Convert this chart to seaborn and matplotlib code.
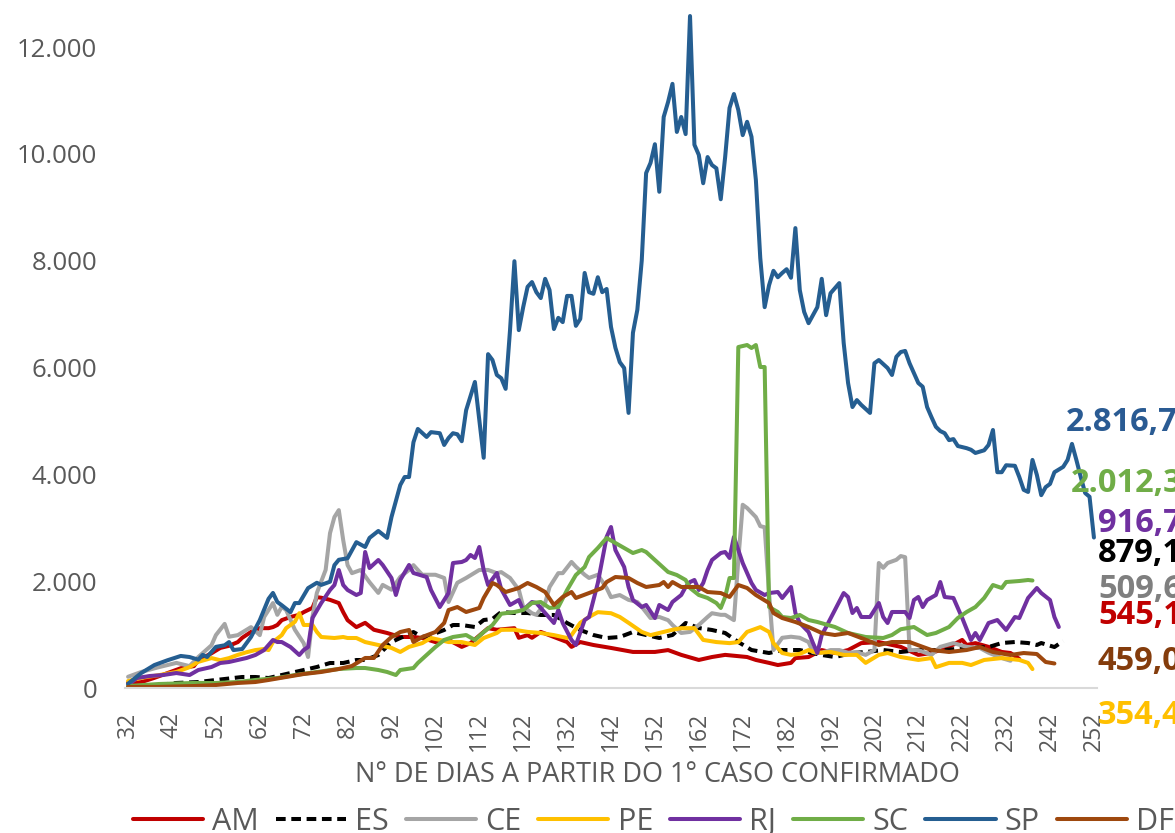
import matplotlib
matplotlib.use("Agg")
import matplotlib.pyplot as plt
from matplotlib.ticker import FuncFormatter
import seaborn as sns

# %% data
states = ["AM", "ES", "CE", "PE", "RJ", "SC", "SP", "DF"]

am_days = [32, 35, 38, 41, 44, 47, 48, 51, 53, 55, 57, 58, 60, 62, 64, 65, 66, 67, 69, 71, 72, 74, 75, 76, 78, 80,
           81, 82, 84, 86, 88, 91, 94, 97, 99, 102, 105, 108, 110, 114, 116, 120, 121, 123, 124, 126, 129, 132, 133,
           135, 138, 142, 147, 152, 155, 158, 162, 165, 168, 173, 175, 178, 180, 183, 184, 187, 190, 193, 196, 199,
           203, 208, 212, 215, 219, 222, 223, 225, 228, 231, 233, 235]
am_vals = [100, 110, 190, 280, 370, 410, 520, 650, 750, 790, 860, 940, 1050, 1120, 1120, 1140, 1180, 1270, 1330,
           1370, 1420, 1500, 1700, 1690, 1650, 1590, 1420, 1270, 1140, 1220, 1090, 1030, 955, 955, 936, 860, 900, 770,
           840, 1120, 1090, 1120, 940, 990, 940, 1050, 955, 860, 770, 860, 805, 750, 675, 675, 710, 620, 525, 580,
           620, 580, 525, 470, 430, 470, 560, 580, 710, 655, 710, 840, 860, 770, 620, 655, 770, 900, 805, 840, 770,
           675, 655, 545]

es_days = [32, 39, 43, 48, 52, 58, 61, 64, 67, 71, 75, 78, 81, 84, 86, 89, 92, 94, 97, 99, 101, 104, 106, 108, 111,
           113, 115, 117, 120, 123, 126, 129, 132, 135, 138, 141, 144, 147, 150, 153, 156, 159, 162, 165, 168, 171,
           174, 178, 181, 185, 190, 193, 197, 200, 204, 208, 212, 218, 223, 228, 231, 234, 237, 239, 240, 243, 245]
es_vals = [20, 56, 94, 112, 150, 206, 206, 187, 243, 318, 393, 468, 468, 524, 524, 618, 861, 936, 1048, 955, 992,
           1086, 1179, 1179, 1142, 1273, 1292, 1423, 1404, 1404, 1367, 1367, 1217, 1086, 992, 936, 955, 1048, 992,
           936, 992, 1217, 1123, 1086, 1030, 861, 711, 655, 711, 711, 618, 580, 655, 674, 711, 674, 711, 711, 749,
           767, 842, 861, 842, 805, 842, 767, 879]

ce_days = [32, 35, 39, 43, 46, 48, 51, 52, 54, 55, 57, 59, 60, 62, 63, 65, 66, 67, 68, 70, 72, 73, 74, 75, 77, 78,
           79, 80, 81, 82, 83, 85, 87, 89, 90, 92, 94, 96, 97, 99, 102, 104, 105, 107, 109, 112, 114, 116, 117, 119,
           121, 122, 124, 125, 127, 128, 130, 131, 133, 134, 136, 137, 139, 141, 142, 144, 146, 148, 149, 151, 153,
           155, 156, 158, 160, 162, 164, 165, 167, 168, 170, 171, 172, 173, 175, 176, 177, 178, 179, 181, 183, 185,
           187, 188, 190, 192, 194, 196, 198, 200, 202, 203, 204, 205, 207, 208, 209, 210, 212, 215, 217, 220, 223,
           226, 228, 231, 233]
ce_vals = [210, 300, 390, 470, 410, 580, 800, 990, 1200, 960, 990, 1090, 1140, 990, 1330, 1590, 1370, 1520, 1460,
           1090, 840, 580, 1330, 1780, 2210, 2900, 3200, 3330, 2770, 2300, 2150, 2210, 1980, 1780, 1930, 1840, 2080,
           2210, 2300, 2120, 2120, 2060, 1610, 1970, 2060, 2210, 2210, 2150, 2170, 2060, 1840, 1520, 1400, 1370,
           1590, 1890, 2150, 2150, 2360, 2270, 2120, 2060, 2120, 1870, 1700, 1740, 1650, 1610, 1520, 1310, 1330,
           1270, 1180, 1030, 1050, 1180, 1330, 1400, 1370, 1370, 1270, 2400, 3430, 3370, 3200, 3030, 3010, 1780,
           710, 940, 960, 940, 860, 670, 660, 710, 710, 660, 670, 620, 710, 2340, 2250, 2340, 2400, 2470, 2450,
           710, 710, 620, 770, 840, 770, 750, 660, 560, 510]

pe_days = [32, 35, 39, 43, 46, 48, 51, 53, 55, 57, 59, 61, 63, 64, 65, 67, 68, 70, 71, 72, 74, 75, 76, 79, 81, 82,
           84, 86, 89, 91, 92, 94, 96, 99, 101, 103, 105, 108, 111, 113, 116, 117, 120, 123, 126, 129, 132, 133,
           135, 137, 139, 142, 144, 146, 149, 151, 153, 156, 158, 161, 163, 166, 169, 171, 173, 176, 178, 179, 181,
           183, 185, 187, 189, 192, 195, 198, 200, 203, 205, 208, 212, 215, 216, 219, 222, 224, 227, 231, 235, 237,
           238]
pe_vals = [130, 190, 240, 300, 390, 490, 560, 520, 560, 620, 670, 710, 730, 710, 860, 990, 1120, 1240, 1400, 1180,
           1180, 1050, 955, 936, 955, 936, 936, 860, 805, 770, 750, 675, 770, 840, 936, 900, 860, 860, 805, 936,
           1030, 1090, 1090, 1050, 1030, 990, 936, 990, 1220, 1330, 1420, 1400, 1330, 1220, 1050, 990, 1030, 1090,
           1120, 1120, 900, 860, 840, 860, 1050, 1140, 1050, 840, 655, 620, 640, 710, 655, 675, 620, 620, 470, 620,
           655, 580, 525, 560, 390, 470, 470, 430, 525, 560, 525, 470, 354]

rj_days = [32, 34, 37, 40, 43, 46, 48, 51, 53, 55, 57, 59, 61, 63, 65, 66, 67, 69, 71, 72, 73, 74, 76, 78, 79, 80,
           81, 82, 84, 85, 86, 87, 89, 90, 92, 93, 94, 96, 97, 100, 101, 103, 105, 106, 108, 109, 110, 111, 112, 113,
           114, 116, 117, 119, 121, 122, 124, 125, 127, 129, 130, 131, 133, 134, 136, 137, 139, 140, 141, 142, 143,
           145, 146, 147, 149, 150, 152, 153, 155, 156, 158, 159, 160, 161, 162, 163, 164, 165, 167, 168, 169, 170,
           171, 172, 174, 175, 177, 178, 180, 181, 183, 184, 185, 187, 188, 189, 190, 191, 193, 195, 196, 197, 198,
           199, 201, 203, 204, 205, 206, 209, 210, 211, 212, 213, 214, 216, 217, 218, 220, 222, 224, 225, 226, 228,
           230, 232, 234, 235, 237, 239, 240, 242, 243, 244]
rj_vals = [56, 187, 225, 243, 280, 243, 337, 393, 468, 487, 524, 562, 618, 711, 899, 861, 861, 767, 618, 711, 767,
           1310, 1591, 1835, 1928, 2209, 1928, 1835, 1741, 1778, 2546, 2246, 2396, 2303, 2059, 1741, 2022, 2303,
           2153, 2078, 1835, 1516, 1778, 2340, 2359, 2396, 2490, 2434, 2640, 2209, 1928, 2153, 1850, 1554, 1647,
           1460, 1610, 1591, 1404, 1217, 1460, 1217, 899, 805, 1273, 1329, 1966, 2396, 2827, 3014, 2583, 2265, 1891,
           1647, 1516, 1554, 1310, 1554, 1460, 1610, 1741, 1891, 1984, 2022, 1835, 1966, 2209, 2396, 2527, 2546,
           2434, 2827, 2583, 2340, 1966, 1835, 1741, 1778, 1797, 1685, 1891, 1404, 1217, 1048, 842, 655, 992, 1142,
           1460, 1778, 1704, 1404, 1498, 1329, 1329, 1591, 1329, 1217, 1423, 1423, 1310, 1647, 1704, 1516, 1647,
           1741, 1984, 1704, 1685, 1310, 899, 1030, 899, 1217, 1273, 1086, 1329, 1310, 1685, 1872, 1778, 1647,
           1329, 1142]

sc_days = [32, 39, 47, 52, 57, 61, 66, 70, 75, 80, 84, 86, 89, 91, 93, 94, 97, 98, 100, 102, 104, 106, 109, 111,
           113, 115, 117, 120, 122, 124, 126, 128, 130, 132, 134, 136, 137, 139, 141, 143, 145, 147, 149, 150, 152,
           155, 157, 159, 160, 162, 164, 166, 167, 168, 169, 170, 171, 173, 174, 175, 176, 177, 178, 180, 181, 183,
           185, 187, 189, 193, 196, 200, 204, 206, 208, 211, 214, 216, 219, 221, 223, 225, 227, 229, 231, 232, 235,
           237, 238]
sc_vals = [37, 75, 94, 94, 112, 150, 187, 243, 300, 356, 374, 374, 337, 300, 243, 337, 374, 468, 618, 767, 899,
           955, 992, 899, 1048, 1179, 1390, 1423, 1460, 1591, 1610, 1498, 1516, 1835, 2115, 2265, 2452, 2621, 2808,
           2715, 2621, 2527, 2583, 2546, 2396, 2172, 2115, 2022, 1872, 1741, 1685, 1591, 1498, 1704, 2059, 2059,
           6383, 6421, 6365, 6421, 6009, 6009, 1516, 1423, 1329, 1310, 1367, 1273, 1236, 1142, 1030, 955, 936, 992,
           1100, 1142, 992, 1030, 1142, 1310, 1423, 1516, 1685, 1928, 1872, 1984, 2003, 2022, 2012]

sp_days = [32, 35, 38, 41, 44, 46, 48, 49, 50, 52, 54, 55, 56, 58, 60, 62, 64, 65, 66, 67, 69, 70, 71, 73, 75, 76,
           78, 79, 80, 82, 83, 84, 86, 87, 89, 91, 92, 94, 95, 96, 97, 98, 100, 101, 103, 104, 105, 106, 107, 108,
           109, 111, 113, 114, 115, 116, 117, 118, 119, 120, 121, 122, 123, 124, 125, 126, 127, 128, 129, 130, 131,
           132, 133, 134, 135, 136, 137, 138, 139, 140, 141, 142, 143, 144, 145, 146, 147, 148, 149, 150, 151, 152,
           153, 154, 155, 156, 157, 158, 159, 160, 161, 162, 163, 164, 165, 166, 167, 168, 169, 170, 171, 172, 173,
           174, 175, 176, 177, 178, 179, 180, 181, 182, 183, 184, 185, 186, 187, 189, 190, 191, 192, 194, 195, 196,
           197, 198, 199, 201, 202, 203, 205, 206, 207, 208, 209, 210, 212, 213, 214, 215, 216, 217, 218, 219, 220,
           221, 223, 224, 225, 227, 228, 229, 230, 231, 232, 234, 235, 236, 237, 238, 239, 240, 241, 242, 243, 245,
           246, 247, 248, 249, 250, 251, 252]
sp_vals = [80, 280, 430, 520, 600, 580, 530, 620, 580, 770, 800, 860, 710, 730, 955, 1270, 1670, 1780, 1610, 1550,
           1420, 1590, 1590, 1870, 1970, 1930, 1990, 2300, 2400, 2430, 2580, 2730, 2640, 2810, 2940, 2810, 3200,
           3800, 3950, 3950, 4600, 4850, 4700, 4790, 4770, 4550, 4680, 4770, 4750, 4620, 5200, 5730, 4310, 6250,
           6140, 5860, 5800, 5600, 6700, 7990, 6700, 7130, 7510, 7600, 7410, 7300, 7660, 7450, 6720, 6930, 6850,
           7340, 7340, 6780, 6910, 7770, 7410, 7380, 7690, 7410, 7470, 6760, 6370, 6100, 5990, 5150, 6650, 7080,
           8000, 9640, 9830, 10180, 9290, 10690, 10970, 11310, 10410, 10690, 10370, 12580, 10170, 9980, 9450, 9940,
           9790, 9730, 9150, 9940, 10860, 11120, 10820, 10350, 10600, 10320, 9510, 8050, 7130, 7540, 7810, 7690,
           7770, 7840, 7680, 8610, 7450, 7040, 6830, 7130, 7660, 6980, 7390, 7580, 6460, 5710, 5260, 5390, 5300,
           5150, 6080, 6140, 5990, 5860, 6200, 6290, 6310, 6080, 5710, 5640, 5260, 5070, 4890, 4810, 4770, 4640,
           4660, 4530, 4490, 4460, 4400, 4450, 4550, 4830, 4040, 4040, 4170, 4160, 3950, 3710, 3670, 4270, 3990,
           3610, 3760, 3820, 4040, 4140, 4270, 4570, 4270, 3950, 3650, 3580, 2817]

df_days = [32, 39, 47, 52, 57, 61, 64, 68, 72, 76, 80, 83, 86, 88, 90, 92, 94, 96, 97, 99, 102, 104, 105, 107, 109,
           112, 113, 115, 116, 118, 121, 123, 125, 127, 129, 131, 133, 134, 137, 140, 141, 143, 146, 148, 150, 153,
           154, 155, 156, 158, 162, 164, 167, 169, 171, 173, 175, 178, 179, 181, 184, 187, 190, 193, 196, 199, 203,
           206, 210, 212, 215, 219, 223, 226, 229, 233, 236, 239, 241, 243]
df_vals = [20, 20, 37, 56, 94, 112, 150, 206, 262, 300, 356, 412, 562, 562, 805, 955, 1048, 1086, 861, 955, 1048,
           1217, 1460, 1516, 1423, 1498, 1685, 1966, 1928, 1797, 1872, 1966, 1891, 1797, 1554, 1704, 1797, 1685,
           1778, 1872, 1984, 2078, 2059, 1966, 1891, 1928, 1984, 1891, 1984, 1891, 1891, 1797, 1778, 1704, 1928,
           1872, 1741, 1591, 1404, 1310, 1236, 1142, 1030, 992, 1030, 936, 805, 861, 861, 800, 711, 674, 711, 767,
           674, 618, 655, 636, 487, 459]

end_labels = ["545,1", "879,1", "509,6", "354,4", "916,7", "2.012,3", "2.816,7", "459,0"]

series = {
    "AM": (am_days, am_vals), "ES": (es_days, es_vals), "CE": (ce_days, ce_vals), "PE": (pe_days, pe_vals),
    "RJ": (rj_days, rj_vals), "SC": (sc_days, sc_vals), "SP": (sp_days, sp_vals), "DF": (df_days, df_vals),
}

# %% styling
line_colors = {"AM": "#C00000", "ES": "#000000", "CE": "#A5A5A5", "PE": "#FFC000",
               "RJ": "#7030A0", "SC": "#70AD47", "SP": "#255E91", "DF": "#9E480E"}
label_colors = {"AM": "#C00000", "ES": "#000000", "CE": "#7F7F7F", "PE": "#FFC000",
                "RJ": "#7030A0", "SC": "#70AD47", "SP": "#2A5B93", "DF": "#843C0C"}
# label anchor in pixels (left x, center y)
label_pos = {"SP": (1066, 423), "SC": (1071, 484), "RJ": (1098, 524), "ES": (1098, 553),
             "CE": (1098, 589), "AM": (1098, 615), "DF": (1098, 662), "PE": (1098, 716)}

sns.set_theme(style="white")
plt.rcParams["font.family"] = ["Open Sans", "DejaVu Sans"]
grey = "#595959"

W, H = 1175, 833
fig = plt.figure(figsize=(W / 100, H / 100), dpi=100)
ax = fig.add_axes([125 / W, (H - 688) / H, 972 / W, 688 / H])

for st in states:
    d, v = series[st]
    ls = (0, (2.4, 1.4)) if st == "ES" else "-"
    sns.lineplot(x=d, y=v, color=line_colors[st], linewidth=2.9, linestyle=ls,
                 estimator=None, sort=False, label=st, ax=ax)

if ax.get_legend() is not None:
    ax.get_legend().remove()

ax.set_xlim(31.3, 252.7)
ax.set_ylim(0, 12880)
ax.set_xticks(range(32, 253, 10))
ax.set_yticks(range(0, 12001, 2000))
ax.yaxis.set_major_formatter(FuncFormatter(lambda val, p: f"{int(val):,}".replace(",", ".")))
ax.tick_params(axis="y", length=0, pad=20, labelsize=18.5, labelcolor=grey)
ax.tick_params(axis="x", length=0, pad=17, labelsize=16.5, labelcolor=grey, labelrotation=90)
for s in ["top", "right", "left"]:
    ax.spines[s].set_visible(False)
ax.spines["bottom"].set_color("#D9D9D9")
ax.spines["bottom"].set_linewidth(1.5)
ax.grid(False)

ax.set_xlabel("N° DE DIAS A PARTIR DO 1° CASO CONFIRMADO", fontsize=19.5, color=grey)
ax.xaxis.set_label_coords((657 - 125) / 972, -(775 - 688) / 688)
ax.xaxis.label.set_va("center")
ax.set_ylabel("")

for st, txt in zip(states, end_labels):
    px, py = label_pos[st]
    fig.text(px / W, 1 - py / H, txt, color=label_colors[st], fontsize=23.5,
             fontweight="bold", va="center", ha="left")

handles = ax.get_lines()[:len(states)]
fig.legend(handles, states, loc="center", bbox_to_anchor=(0.556, 1 - 822 / H), ncol=8,
           frameon=False, fontsize=22, handlelength=2.3, handletextpad=0.3,
           columnspacing=0.55, labelcolor=grey)

fig.savefig("out.png", dpi=100)
